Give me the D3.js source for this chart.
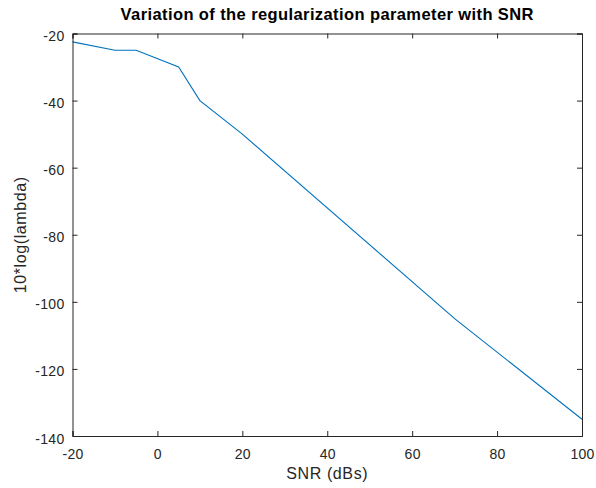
<!DOCTYPE html>
<html>
<head>
<meta charset="utf-8">
<script src="https://cdn.jsdelivr.net/npm/d3@7"></script>
<style>
  html, body { margin: 0; padding: 0; background: #fff; }
  svg { display: block; font-family: "Liberation Sans", Arial, Helvetica, sans-serif; }
</style>
</head>
<body>
<svg id="chart" width="596" height="488"></svg>
<script>
const snr = [-20, -10, -5, 5, 10, 20, 70, 100];
const logLambda = [-22.5, -25, -25, -30, -40, -50, -105, -135];
const xTicks = [-20, 0, 20, 40, 60, 80, 100];
const yTicks = [-140, -120, -100, -80, -60, -40, -20];
const titleText = "Variation of the regularization parameter with SNR";
const xLabel = "SNR (dBs)";
const yLabel = "10*log(lambda)";

const svg = d3.select("#chart");
const m = { left: 72.5, right: 582, top: 33.5, bottom: 436 };
const axisColor = "#262626";

const x = d3.scaleLinear().domain([-20, 100]).range([m.left, m.right]);
const y = d3.scaleLinear().domain([-140, -20]).range([m.bottom, m.top]);

const data = snr.map((d, i) => ({ x: d, y: logLambda[i] }));

// line
svg.append("path")
  .datum(data)
  .attr("fill", "none")
  .attr("stroke", "#0072BD")
  .attr("stroke-width", 1.1)
  .attr("d", d3.line().x(d => x(d.x)).y(d => y(d.y)));

const tickLen = 5;
const fmt = d => String(d);
// bottom axis
const gB = svg.append("g").attr("transform", `translate(0,${m.bottom})`)
  .call(d3.axisBottom(x).tickValues(xTicks).tickSize(-tickLen).tickPadding(13.5).tickFormat(fmt));
// top axis (ticks only)
const gT = svg.append("g").attr("transform", `translate(0,${m.top})`)
  .call(d3.axisTop(x).tickValues(xTicks).tickSize(-tickLen).tickFormat(""));
// left axis
const gL = svg.append("g").attr("transform", `translate(${m.left},0)`)
  .call(d3.axisLeft(y).tickValues(yTicks).tickSize(-tickLen).tickPadding(8).tickFormat(fmt));
// right axis (ticks only)
const gR = svg.append("g").attr("transform", `translate(${m.right},0)`)
  .call(d3.axisRight(y).tickValues(yTicks).tickSize(-tickLen).tickFormat(""));

[gB, gT, gL, gR].forEach(g => {
  g.select(".domain").attr("stroke", axisColor).attr("stroke-width", 1);
  g.selectAll(".tick line").attr("stroke", axisColor).attr("stroke-width", 1);
  g.selectAll(".tick text").attr("fill", axisColor).style("font-size", "14px")
    .style("letter-spacing", "0.3px")
    .style("font-family", "'Liberation Sans', Arial, sans-serif");
});
gB.selectAll(".tick text").attr("dy", "0.71em");
gL.selectAll(".tick text").attr("dy", "0.5em");

// title
svg.append("text")
  .attr("x", (m.left + m.right) / 2)
  .attr("y", 20)
  .attr("text-anchor", "middle")
  .attr("font-weight", "bold")
  .attr("font-size", "16.5px")
  .style("letter-spacing", "0.4px")
  .attr("fill", "#000")
  .text(titleText);

// x label
svg.append("text")
  .attr("x", (m.left + m.right) / 2)
  .attr("y", 479)
  .attr("text-anchor", "middle")
  .attr("font-size", "16px")
  .style("letter-spacing", "0.6px")
  .attr("fill", axisColor)
  .text(xLabel);

// y label
svg.append("text")
  .attr("transform", `translate(26,${(m.top + m.bottom) / 2}) rotate(-90)`)
  .attr("text-anchor", "middle")
  .attr("font-size", "16px")
  .style("letter-spacing", "0.6px")
  .attr("fill", axisColor)
  .text(yLabel);
</script>
</body>
</html>
